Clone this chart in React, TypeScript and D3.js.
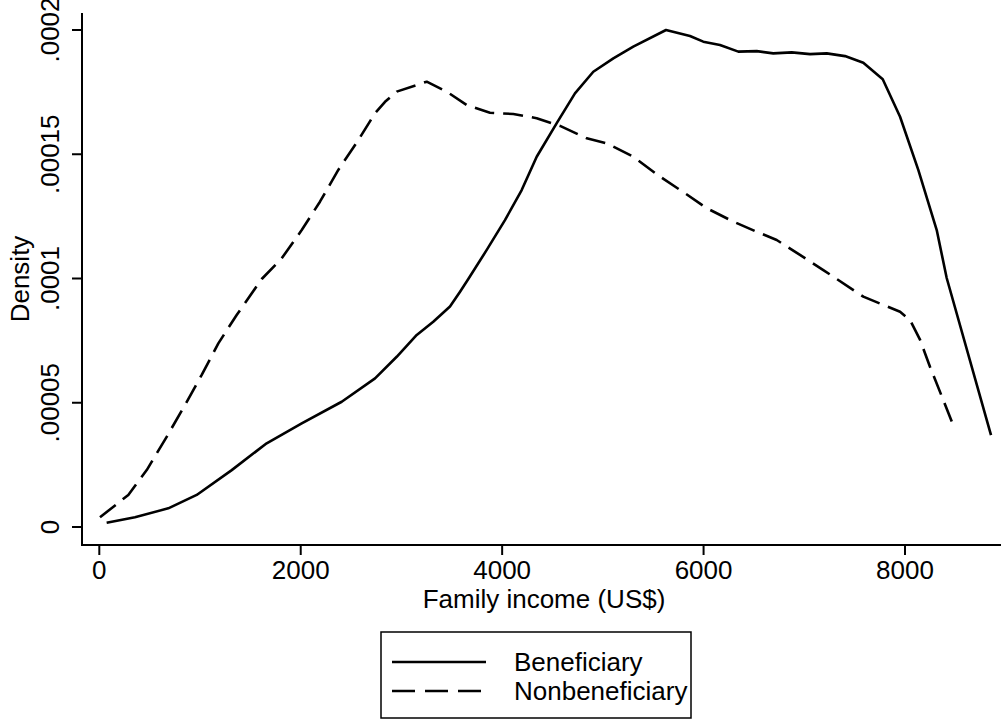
import React, { useEffect, useRef } from 'react';
import * as d3 from 'd3';

// Kernel density estimates
const benIncome = [73, 354, 685, 967, 1315, 1662, 2010, 2407, 2738, 2953, 3152, 3316, 3482, 3582, 3664, 3847, 4028, 4194, 4343, 4542, 4723, 4905, 5104, 5302, 5627, 5865, 5997, 6163, 6345, 6528, 6692, 6875, 7057, 7223, 7404, 7586, 7779, 7951, 8132, 8315, 8414, 8854];
const benDensity = [0.0000017, 0.0000039, 0.0000075, 0.0000129, 0.0000229, 0.0000337, 0.0000417, 0.0000504, 0.0000598, 0.0000685, 0.0000773, 0.0000826, 0.0000887, 0.0000947, 0.0000998, 0.0001115, 0.0001235, 0.0001356, 0.000149, 0.0001625, 0.0001745, 0.0001832, 0.0001886, 0.0001933, 0.0002, 0.0001976, 0.0001953, 0.000194, 0.0001913, 0.0001915, 0.0001906, 0.000191, 0.0001903, 0.0001906, 0.0001895, 0.0001868, 0.0001802, 0.0001651, 0.0001437, 0.0001195, 0.0001002, 0.000037];

const nonIncome = [7, 288, 471, 669, 851, 1017, 1182, 1364, 1613, 1811, 2010, 2191, 2373, 2572, 2738, 2837, 2953, 3251, 3450, 3648, 3879, 4111, 4343, 4575, 4840, 5038, 5302, 5567, 5816, 6031, 6295, 6528, 6726, 6957, 7189, 7322, 7586, 7951, 8050, 8150, 8248, 8380, 8480];
const nonDensity = [0.0000039, 0.0000129, 0.0000229, 0.0000363, 0.0000491, 0.0000612, 0.0000739, 0.0000853, 0.0000998, 0.0001081, 0.0001195, 0.0001309, 0.0001437, 0.0001557, 0.0001665, 0.0001711, 0.0001752, 0.0001792, 0.0001752, 0.0001698, 0.0001667, 0.0001662, 0.0001645, 0.0001614, 0.0001564, 0.0001544, 0.000149, 0.000141, 0.0001343, 0.0001283, 0.0001229, 0.0001188, 0.0001155, 0.0001095, 0.0001034, 0.0000998, 0.0000927, 0.0000866, 0.0000833, 0.0000753, 0.0000645, 0.0000511, 0.0000408];

const xTicks = [0, 2000, 4000, 6000, 8000];
const yTicks = [0, 0.00005, 0.0001, 0.00015, 0.0002];
const yTickLabels = ['0', '.00005', '.0001', '.00015', '.0002'];

const series = [
  { name: 'Beneficiary', xs: benIncome, ys: benDensity, dash: null },
  { name: 'Nonbeneficiary', xs: nonIncome, ys: nonDensity, dash: '20,9' },
];

export default function App() {
  const svgRef = useRef<SVGSVGElement>(null);

  useEffect(() => {
    if (!svgRef.current) return;
    const svg = d3.select(svgRef.current);
    svg.selectAll('*').remove();

    const font = '"Liberation Sans", Arial, sans-serif';
    const fs = 26;

    const x = d3.scaleLinear().domain([0, 8000]).range([99.3, 905]);
    const y = d3.scaleLinear().domain([0, 0.0002]).range([527, 30]);
    const axisX = 82;
    const axisY = 545;

    // axes
    svg.append('line')
      .attr('x1', axisX).attr('x2', axisX)
      .attr('y1', 13).attr('y2', axisY)
      .attr('stroke', '#000').attr('stroke-width', 2);
    svg.append('line')
      .attr('x1', axisX - 1).attr('x2', 1001)
      .attr('y1', axisY).attr('y2', axisY)
      .attr('stroke', '#000').attr('stroke-width', 2);

    // y ticks
    yTicks.forEach((t, i) => {
      svg.append('line')
        .attr('x1', axisX - 10).attr('x2', axisX)
        .attr('y1', y(t)).attr('y2', y(t))
        .attr('stroke', '#000').attr('stroke-width', 2);
      svg.append('text')
        .attr('transform', `translate(59,${y(t)}) rotate(-90)`)
        .attr('text-anchor', 'middle')
        .attr('font-family', font).attr('font-size', fs)
        .text(yTickLabels[i]);
    });

    // x ticks
    xTicks.forEach(t => {
      svg.append('line')
        .attr('x1', x(t)).attr('x2', x(t))
        .attr('y1', axisY).attr('y2', axisY + 10)
        .attr('stroke', '#000').attr('stroke-width', 2);
      svg.append('text')
        .attr('x', x(t)).attr('y', 579)
        .attr('text-anchor', 'middle')
        .attr('font-family', font).attr('font-size', fs)
        .text(d3.format('d')(t));
    });

    // axis titles
    svg.append('text')
      .attr('x', 544).attr('y', 608)
      .attr('text-anchor', 'middle')
      .attr('font-family', font).attr('font-size', fs)
      .text('Family income (US$)');
    svg.append('text')
      .attr('transform', `translate(29,279) rotate(-90)`)
      .attr('text-anchor', 'middle')
      .attr('font-family', font).attr('font-size', fs)
      .text('Density');

    // density curves
    series.forEach(s => {
      const pts = s.xs.map((v, i) => [x(v), y(s.ys[i])] as [number, number]);
      const p = svg.append('path')
        .attr('d', d3.line()(pts))
        .attr('fill', 'none')
        .attr('stroke', '#000')
        .attr('stroke-width', 2.6)
        .attr('stroke-linejoin', 'round');
      if (s.dash) p.attr('stroke-dasharray', s.dash);
    });

    // legend
    svg.append('rect')
      .attr('x', 381).attr('y', 632)
      .attr('width', 310).attr('height', 86)
      .attr('fill', 'white').attr('stroke', '#000').attr('stroke-width', 1.5);
    series.forEach((s, i) => {
      const ly = 662 + i * 29;
      const l = svg.append('line')
        .attr('x1', 392).attr('x2', 486)
        .attr('y1', ly).attr('y2', ly)
        .attr('stroke', '#000').attr('stroke-width', 2.6);
      if (s.dash) l.attr('stroke-dasharray', '23,10');
      svg.append('text')
        .attr('x', 514).attr('y', ly + 8.5)
        .attr('font-family', font).attr('font-size', fs)
        .text(s.name);
    });
  }, []);

  return (
    <div style={{ position: 'absolute', left: 0, top: 0, background: 'white' }}>
      <svg ref={svgRef} width="1001" height="722" style={{ display: 'block' }} />
    </div>
  );
}
